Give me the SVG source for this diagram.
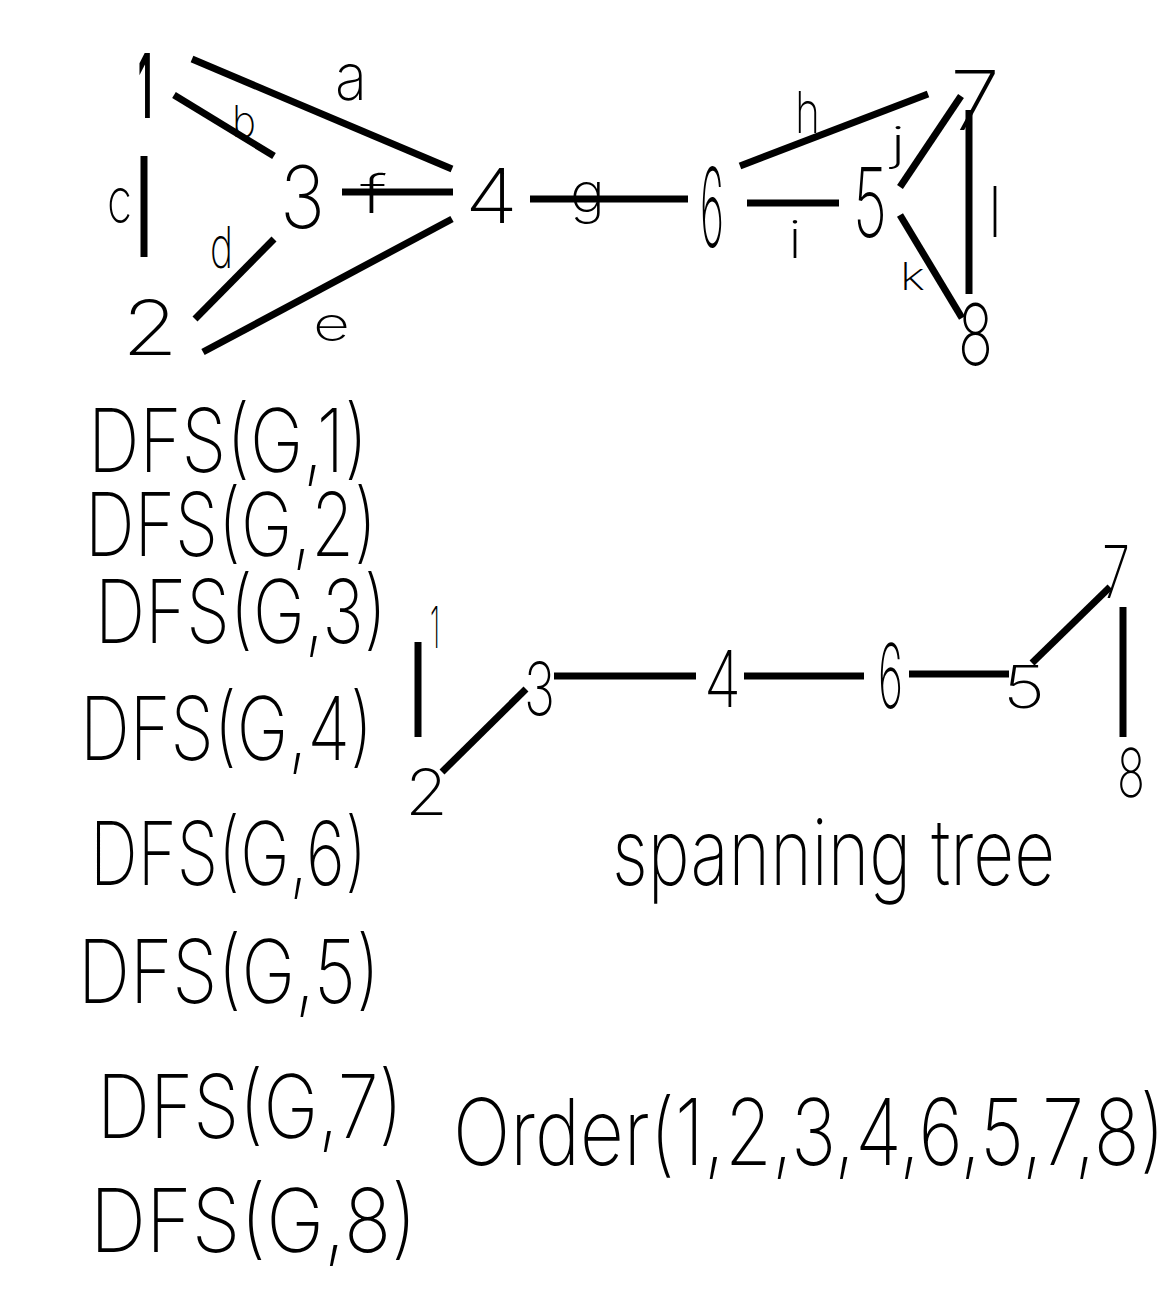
<svg xmlns="http://www.w3.org/2000/svg" width="1176" height="1308" viewBox="0 0 1176 1308">
<style>
.e{stroke:#000;stroke-width:7;stroke-linecap:butt;fill:none}
text{font-family:Inter,"Noto Sans","Liberation Sans",sans-serif;font-weight:200;fill:#000}
text.b{font-weight:700}
</style>
<rect width="1176" height="1308" fill="#fff"/>
<g id="connectors">
<line class="e" x1="192" y1="59" x2="452" y2="169"/>
<line class="e" x1="174" y1="95" x2="274" y2="156"/>
<line class="e" x1="144" y1="156" x2="144" y2="257"/>
<line class="e" x1="195" y1="319" x2="274" y2="239"/>
<line class="e" x1="203" y1="352" x2="452" y2="219"/>
<line class="e" x1="342" y1="192" x2="453" y2="192"/>
<line class="e" x1="530" y1="199" x2="688" y2="199"/>
<line class="e" x1="740" y1="166" x2="928" y2="94"/>
<line class="e" x1="747" y1="203" x2="839" y2="203"/>
<line class="e" x1="900" y1="187" x2="961" y2="96"/>
<line class="e" x1="900" y1="215" x2="962" y2="318"/>
<line class="e" x1="969" y1="110" x2="969" y2="294"/>
<line class="e" x1="418" y1="642" x2="418" y2="737"/>
<line class="e" x1="442" y1="772" x2="526" y2="689"/>
<line class="e" x1="554" y1="676" x2="696" y2="676"/>
<line class="e" x1="744" y1="676" x2="864" y2="676"/>
<line class="e" x1="909" y1="674" x2="1009" y2="674"/>
<line class="e" x1="1032" y1="663" x2="1110" y2="587"/>
<line class="e" x1="1123" y1="607" x2="1123" y2="737"/>
</g>
<g id="edge-labels">
<text x="335" y="100" font-size="66" textLength="32" lengthAdjust="spacingAndGlyphs">a</text>
<text x="232" y="137" font-size="44" textLength="24" lengthAdjust="spacingAndGlyphs">b</text>
<text x="107" y="223" font-size="64" textLength="25" lengthAdjust="spacingAndGlyphs">c</text>
<text x="210" y="268" font-size="58" textLength="23" lengthAdjust="spacingAndGlyphs">d</text>
<text x="313" y="340" font-size="46" textLength="37" lengthAdjust="spacingAndGlyphs">e</text>
<text x="360" y="213" font-size="52" textLength="27" lengthAdjust="spacingAndGlyphs">f</text>
<text x="570" y="212" font-size="54" textLength="35" lengthAdjust="spacingAndGlyphs">g</text>
<text x="795" y="133" font-size="58" textLength="25" lengthAdjust="spacingAndGlyphs">h</text>
<text x="788" y="258" font-size="52" textLength="14" lengthAdjust="spacingAndGlyphs">i</text>
<text x="890" y="160" font-size="46" textLength="16" lengthAdjust="spacingAndGlyphs">j</text>
<text x="900" y="290" font-size="38" textLength="25" lengthAdjust="spacingAndGlyphs">k</text>
<text x="988" y="237" font-size="70" textLength="14" lengthAdjust="spacingAndGlyphs">l</text>
</g>
<g id="node-1"><text class="b" x="138" y="118" font-size="90" textLength="14" lengthAdjust="spacingAndGlyphs">1</text></g>
<g id="node-2"><text x="122" y="355" font-size="76" textLength="56" lengthAdjust="spacingAndGlyphs">2</text></g>
<g id="node-3"><text x="280" y="228" font-size="86" textLength="45" lengthAdjust="spacingAndGlyphs">3</text></g>
<g id="node-4"><text x="465" y="223" font-size="76" textLength="53" lengthAdjust="spacingAndGlyphs">4</text></g>
<g id="node-6"><text x="700" y="247" font-size="110" textLength="24" lengthAdjust="spacingAndGlyphs">6</text></g>
<g id="node-5"><text x="853" y="237" font-size="96" textLength="34" lengthAdjust="spacingAndGlyphs">5</text></g>
<g id="node-7"><text x="950" y="130" font-size="82" textLength="50" lengthAdjust="spacingAndGlyphs">7</text></g>
<g id="node-8"><text x="958" y="365" font-size="85" textLength="35" lengthAdjust="spacingAndGlyphs">8</text></g>
<g id="tree-nodes">
<text x="430" y="648" font-size="58" textLength="10" lengthAdjust="spacingAndGlyphs">1</text>
<text x="405" y="815" font-size="64" textLength="43" lengthAdjust="spacingAndGlyphs">2</text>
<text x="524" y="715" font-size="73" textLength="31" lengthAdjust="spacingAndGlyphs">3</text>
<text x="704" y="707" font-size="78" textLength="37" lengthAdjust="spacingAndGlyphs">4</text>
<text x="878" y="708" font-size="89" textLength="25" lengthAdjust="spacingAndGlyphs">6</text>
<text x="1003" y="708" font-size="59" textLength="42" lengthAdjust="spacingAndGlyphs">5</text>
<text x="1102" y="598" font-size="73" textLength="28" lengthAdjust="spacingAndGlyphs">7</text>
<text x="1117" y="797" font-size="67" textLength="28" lengthAdjust="spacingAndGlyphs">8</text>
</g>
<g id="dfs-calls" font-size="88">
<text x="88" y="472" textLength="280" lengthAdjust="spacingAndGlyphs">DFS(G,1)</text>
<text x="85" y="556" textLength="292" lengthAdjust="spacingAndGlyphs">DFS(G,2)</text>
<text x="95" y="643" textLength="292" lengthAdjust="spacingAndGlyphs">DFS(G,3)</text>
<text x="80" y="760" textLength="293" lengthAdjust="spacingAndGlyphs">DFS(G,4)</text>
<text x="90" y="885" textLength="277" lengthAdjust="spacingAndGlyphs">DFS(G,6)</text>
<text x="78" y="1003" textLength="302" lengthAdjust="spacingAndGlyphs">DFS(G,5)</text>
<text x="97" y="1138" textLength="306" lengthAdjust="spacingAndGlyphs">DFS(G,7)</text>
<text x="90" y="1252" textLength="327" lengthAdjust="spacingAndGlyphs">DFS(G,8)</text>
</g>
<g id="caption"><text x="612" y="885" font-size="92" textLength="443" lengthAdjust="spacingAndGlyphs">spanning tree</text></g>
<g id="order"><text x="453" y="1165" font-size="92" textLength="712" lengthAdjust="spacingAndGlyphs">Order(1,2,3,4,6,5,7,8)</text></g>
</svg>
